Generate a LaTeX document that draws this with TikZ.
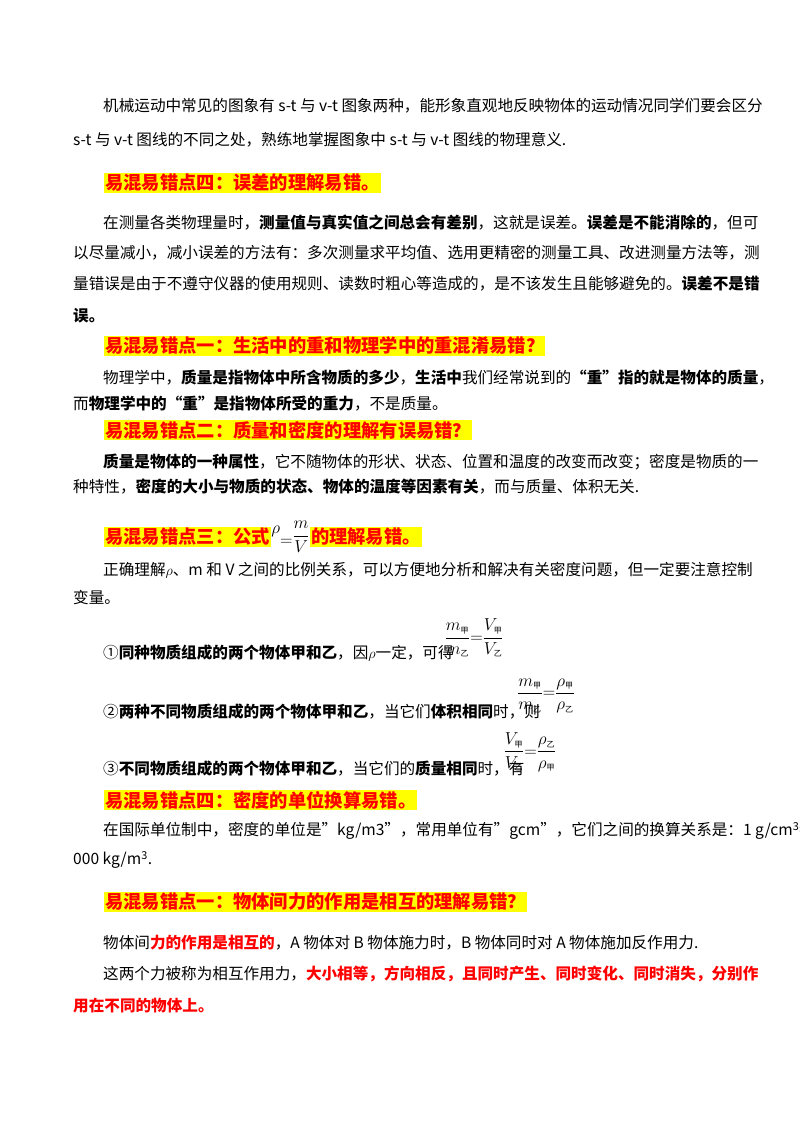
\documentclass[tikz,border=0pt]{standalone}
\usepackage{amsmath}
\usepackage{fontspec}
\setmainfont{Noto Sans CJK SC}
\newfontfamily\cjk{Noto Sans CJK SC}
\definecolor{hred}{RGB}{255,0,0}
\definecolor{hyel}{RGB}{255,255,0}
\newcommand{\sbj}[1]{\mbox{\fontsize{8}{8}\selectfont\cjk #1}}
\begin{document}
\begin{tikzpicture}[x=1pt,y=-1pt,
  body/.style={anchor=west,inner sep=0pt,font=\fontsize{15.6}{18}\selectfont},
  head/.style={anchor=west,inner sep=1pt,fill=hyel,text=hred,font=\fontsize{18.3}{20}\selectfont\bfseries},
  frac/.style={anchor=center,inner sep=0pt,font=\fontsize{16}{18}\selectfont}]
\useasboundingbox (0,0) rectangle (800,1132);
\node[body] (l1) at (103,106) {机械运动中常见的图象有 s-t 与 v-t 图象两种，能形象直观地反映物体的运动情况同学们要会区分};
\node[body] (l2) at (73,140) {s-t 与 v-t 图线的不同之处，熟练地掌握图象中 s-t 与 v-t 图线的物理意义.};
\node[head] (h1) at (104,183) {易混易错点四：误差的理解易错。};
\node[body] (l3) at (103,223) {在测量各类物理量时，\textbf{测量值与真实值之间总会有差别}，这就是误差。\textbf{误差是不能消除的}，但可};
\node[body] (l4) at (73,253) {以尽量减小，减小误差的方法有：多次测量求平均值、选用更精密的测量工具、改进测量方法等，测};
\node[body] (l5) at (73,284) {量错误是由于不遵守仪器的使用规则、读数时粗心等造成的，是不该发生且能够避免的。\textbf{误差不是错}};
\node[body] (l6) at (73,316) {\textbf{误。}};
\node[head] (h2) at (104,346) {易混易错点一：生活中的重和物理学中的重混淆易错？};
\node[body] (l7) at (103,378) {物理学中，\textbf{质量是指物体中所含物质的多少}，\textbf{生活中}我们经常说到的\textbf{“重”指的就是物体的质量}，};
\node[body] (l8) at (73,404) {而\textbf{物理学中的“重”是指物体所受的重力}，不是质量。};
\node[head] (h3) at (104,430) {易混易错点二：质量和密度的理解有误易错？};
\node[body] (l9) at (103,462) {\textbf{质量是物体的一种属性}，它不随物体的形状、状态、位置和温度的改变而改变；密度是物质的一};
\node[body] (l10) at (73,487) {种特性，\textbf{密度的大小与物质的状态、物体的温度等因素有关}，而与质量、体积无关.};
\node[head] (h4a) at (104,537) {易混易错点三：公式};
\node[frac,anchor=west] (h4f) at (h4a.east) {\fontsize{18}{20}\selectfont$\raisebox{12pt}{$\rho$}{=}\raisebox{5pt}{$\dfrac{m}{V}$}$};
\node[head] (h4b) at (h4f.east) {的理解易错。};
\node[body] (l11) at (103,570) {正确理解$\rho$、m 和 V 之间的比例关系，可以方便地分析和解决有关密度问题，但一定要注意控制};
\node[body] (l12) at (73,598) {变量。};
\node[body] (l13) at (103,653) {①\textbf{同种物质组成的两个物体甲和乙}，因$\rho$一定，可得};
\node[frac] (f1) at (474,638) {$\dfrac{m_{\sbj{甲}}}{m_{\sbj{乙}}}{=}\dfrac{V_{\sbj{甲}}}{V_{\sbj{乙}}}$};
\node[body] (l14) at (103,712) {②\textbf{两种不同物质组成的两个物体甲和乙}，当它们\textbf{体积相同}时，则};
\node[frac] (f2) at (546,696) {$\dfrac{m_{\sbj{甲}}}{m_{\sbj{乙}}}{=}\dfrac{\rho_{\sbj{甲}}}{\rho_{\sbj{乙}}}$};
\node[body] (l15) at (103,769) {③\textbf{不同物质组成的两个物体甲和乙}，当它们的\textbf{质量相同}时，有};
\node[frac] (f3) at (530,752) {$\dfrac{V_{\sbj{甲}}}{V_{\sbj{乙}}}{=}\dfrac{\rho_{\sbj{乙}}}{\rho_{\sbj{甲}}}$};
\node[head] (h5) at (104,800) {易混易错点四：密度的单位换算易错。};
\node[body] (l16) at (103,831) {在国际单位制中，密度的单位是"kg/m3"，常用单位有"gcm"，它们之间的换算关系是：1 g/cm\textsuperscript{3}=1};
\node[body] (l17) at (73,860) {000 kg/m\textsuperscript{3}.};
\node[head] (h6) at (104,902) {易混易错点一：物体间力的作用是相互的理解易错？};
\node[body] (l18) at (103,943) {物体间\textcolor{hred}{\textbf{力的作用是相互的}}，A 物体对 B 物体施力时，B 物体同时对 A 物体施加反作用力.};
\node[body] (l19) at (103,974) {这两个力被称为相互作用力，\textcolor{hred}{\textbf{大小相等，方向相反，且同时产生、同时变化、同时消失，分别作}}};
\node[body] (l20) at (73,1006) {\textcolor{hred}{\textbf{用在不同的物体上。}}};
\end{tikzpicture}
\end{document}
